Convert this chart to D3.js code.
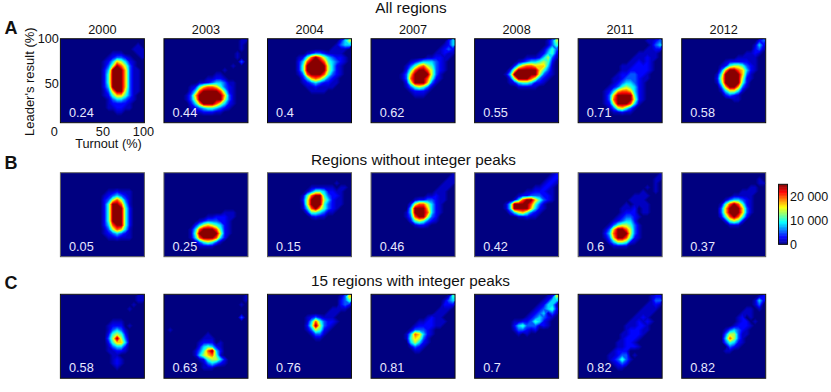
<!DOCTYPE html>
<html><head><meta charset="utf-8">
<script src="https://cdn.jsdelivr.net/npm/d3@7"></script>
<style>html,body{margin:0;padding:0;background:#fff}svg{display:block}text{font-family:"Liberation Sans",Arial,sans-serif;fill:#111}</style>
</head><body><div id="chart"></div>
<script>
const years = ["2000","2003","2004","2007","2008","2011","2012"];
const rowTitles = ["All regions","Regions without integer peaks","15 regions with integer peaks"];
const rowLetters = ["A","B","C"];
const corrAll = ["0.24","0.44","0.4","0.62","0.55","0.71","0.58"];
const corrWithout = ["0.05","0.25","0.15","0.46","0.42","0.6","0.37"];
const corrInteger = ["0.58","0.63","0.76","0.81","0.7","0.82","0.82"];
const colorbarTicks = [0,10000,20000];
// ballot-count read at each digit of the 5%-by-5% grids below
const gridLevels = [0,1800,3200,5500,8500,11000,14000,17000,20000,25000];

const allRegions = [
["","00000000000000000010","00000000000000000111","00000000000011100011","00000000000123321001","00000000001247642100","00000000001369863100","00000000002499973110","00000000002599973110","00000000002599973110","00000000002599973110","00000000002499973110","00000000001379963110","00000000001257753100","00000000000134432100","00000000000122221000","00000000000112211000","00000000000001100"],
["00000000000000000011","0000000000000000001","0000000000000000001","000000000000000001","000000000000000001","0000000000000000003","00000000000000001","000000000000001","00000000000011","000000000011221","00000000112344311","00000012578875321","00000024899998521","00000137999999731","00000136999999631","00000024799986421","0000001234554321","00000001122211"],
["00000000000000000246","00000000000000001344","0000000000000001111","000000000123321111","0000000125898643221","0000000248999854321","000000025999996421","000000025999996421","000000013899985321","00000000247875321","00000000123432211","0000000001121111","00000000001111"],
["00000000000000000024","00000000000000000124","00000000000000001232","00000000000000011211","0000000000000112211","000000000123444321","000000001357865321","000000002589986321","00000001379999631","00000001389998521","0000000026999731","000000001356531","00000000012221","0000000000111"],
["00000000000000000136","00000000000000000135","00000000000000001353","00000000000000012452","00000000000011124631","0000000000123445652","0000000002578877741","0000000026999997531","0000000149999996321","000000002699986321","00000000124554221","000000000011111"],
["00000000000000001123","00000000000000000134","00000000000000001122","0000000000000011111","0000000000000111211","000000000000112121","000000000011122221","000000000011222221","00000000012233221","00000000112333211","0000000012344321","0000000123565421","0000001247887421","0000001379999521","0000001389999621","000000126999841","00000001367531","0000000011211"],
["00000000000000000023","00000000000000000142","00000000000000000231","0000000000000001121","000000000000011111","000000000012222211","000000000125665321","000000000379987421","00000000159999731","00000000269999621","0000000015999952","0000000003799731","000000000146641","00000000002321","00000000000011"]
];
const withoutPeaks = [
["","","","","00000000000112111","00000000001234321","00000000002368631","00000000002599841","00000000002599952","00000000002599952","00000000002599952","00000000002599952","00000000002489952","00000000001368741","00000000001234321","00000000000112111"],
["","","","","","","","","","00000000000000111","00000000001122211","0000000012333221","0000000246765421","0000001489998521","0000001599999621","000000148999842","00000001356531","000000001111"],
["","","0000000000000000100","00000000001111110110","000000000135542211","000000001589953221","000000002699964211","000000001699953211","00000000148975321","0000000002554311","00000000001211"],
["00000000000000000001","00000000000000000011","00000000000000000111","0000000000000000111","000000000000000111","000000000000011211","000000000012233211","00000000026886421","00000000049997421","00000000149998421","0000000013899632","0000000002565321","00000000001221"],
["00000000000000000012","00000000000000000122","00000000000000001221","0000000000000011221","0000000000001122211","0000000000122333221","0000000001489975321","00000001499998531","00000001499997421","00000000246753210","000000000011211"],
["00000000000000000001","00000000000000000011","0000000000000000001","0000000000000000101","0000000000000001001","00000000000001111","0000000000001111","00000000000101111","00000000001112011","00000000001222011","000000000123321","000000001234420","000000013566531","000000137998631","000000248999631","000000137998521","000000024665210","000000001111"],
["","0000000000000000001","00000000000000000011","000000000000000011","000000000000001111","00000000000011111","00000000001344321","00000000015898521","00000000037999731","00000000037999731","0000000002589852","000000000025652","00000000000111"]
];
const integerPeaks = [
["00000000000000000011","00000000000000000011","000000000000000001","00000000000000001","","","000000000000111","00000000000122201","00000000000134310","00000000000256520","00000000000369630","00000000000257740","00000000000134420","00000000000112210","00000000000011","000000000000121","000000000000121","00000000000001"],
["00000000000000000001","00000000000000000001","0000000000000000001","","","0000000000000000003","","","01","00000000001","000000000111","00000000122201","000000002454210","000000013589420","00000001467851","000000001256642","000000000134321","000000000111"],
["00000000000000000137","00000000000000000235","00000000000000000232","0000000000000001111","000000000000001110","00000000012321110","00000000014853221","0000000002596321","000000000136521","00000000001331","0000000000011"],
["00000000000000000015","00000000000000000134","00000000000000000222","0000000000000000111","000000000000000111","00000000000001211","000000000001122111","00000000001222211","000000000133321","000000001487421","00000000157631","00000000046421","0000000001321","000000000011"],
["00000000000000000126","00000000000000001244","00000000000000012441","00000000000000123452","00000000000001234131","0000000000001234321","000000000112235421","000000000245333121","000000000133212","0000000000101"],
["00000000000000000122","00000000000000000133","00000000000000001121","0000000000000001111","000000000000001111","00000000000001121","000000000000112121","00000000000111221","00000000000122211","0000000000112221","000000000012221","000000000112210","000000000112221","000000001222","00000001123301","0000000123531","000000001232","00000000011"],
["00000000000000000012","00000000000000000142","0000000000000000013","0000000000000001101","00000000000000111","00000000000001201","000000000000012201","00000000000012221","00000000001343210","0000000000366311","000000000048631","000000000035421","00000000000321","000000000011"]
];
const rows = [
  {grids: allRegions, corr: corrAll, top: 38.7, border: "#0a0a0a"},
  {grids: withoutPeaks, corr: corrWithout, top: 172.7, border: "#5a5a5a"},
  {grids: integerPeaks, corr: corrInteger, top: 294.3, border: "#111"}
];

const W = 831, H = 392, size = 84, cols = 20, binWidth = 5;
const panelX = d3.scalePoint().domain(years).range([60.4, 681.7]);
const x = d3.scaleLinear().domain([0,100]).range([0,size]);
const y = d3.scaleLinear().domain([0,100]).range([size,0]);
const jet = t => {
  const c = v => Math.round(255*Math.max(0,Math.min(1,v)));
  return `rgb(${c(Math.min(4*t-1.5,-4*t+4.5))},${c(Math.min(4*t-0.5,-4*t+3.5))},${c(Math.min(4*t+0.5,-4*t+2.5))})`;
};
const color = d3.scaleSequential(jet).domain([0,25000]);
const thresholds = d3.range(400,25000,400);
const contours = d3.contours().size([cols,cols]).thresholds(thresholds);
const path = d3.geoPath(d3.geoTransform({point(px,py){ this.stream.point(x(px*binWidth), y(100-py*binWidth)); }}));

const svg = d3.select("#chart").append("svg").attr("width",W).attr("height",H);
const defs = svg.append("defs");
const f = defs.append("filter").attr("id","soft").attr("x","-10%").attr("y","-10%").attr("width","120%").attr("height","120%").attr("color-interpolation-filters","sRGB");
f.append("feGaussianBlur").attr("stdDeviation",0.6).attr("edgeMode","duplicate");
defs.append("clipPath").attr("id","panelClip").append("rect").attr("width",size).attr("height",size);

rows.forEach((row,ri)=>{
  row.grids.forEach((grid,pi)=>{
    const g = svg.append("g").attr("transform",`translate(${panelX(years[pi])},${row.top})`);
    const values = new Array(cols*cols).fill(0);
    grid.forEach((line,r)=>{ for(let c=0;c<line.length;c++){ values[c+r*cols] = gridLevels[+line[c]]; } });
    const clip = g.append("g").attr("clip-path","url(#panelClip)");
    const inner = clip.append("g").attr("filter","url(#soft)");
    inner.append("rect").attr("width",size).attr("height",size).attr("fill",color(0));
    inner.selectAll("path").data(contours(values)).join("path")
      .attr("d",path).attr("fill",d=>color(d.value));
    g.append("rect").attr("width",size).attr("height",size).attr("fill","none").attr("stroke",row.border).attr("stroke-width",1);
    g.append("text").attr("x",8.6).attr("y",78).attr("font-size",12.7).style("fill","#e8e8ff").text(row.corr[pi]);
    if(ri===0){
      g.append("text").attr("x",size/2).attr("y",-4.3).attr("text-anchor","middle").attr("font-size",12.7).text(years[pi]);
    }
    if(ri===0&&pi===0){
      const ax = g.append("g").attr("transform",`translate(0,${size})`).call(d3.axisBottom(x).tickValues([0,50,100]).tickSize(0).tickPadding(4));
      ax.select(".domain").remove();
      ax.selectAll("text").style("font-family",'"Liberation Sans",Arial,sans-serif').attr("font-size",12.7).attr("dx",d=>d===0?-6.5:d===100?-1.5:0).style("fill","#111");
      const ay = g.append("g").call(d3.axisLeft(y).tickValues([50,100]).tickSize(0).tickPadding(1.5));
      ay.select(".domain").remove();
      ay.selectAll("text").style("font-family",'"Liberation Sans",Arial,sans-serif').attr("font-size",12.7).style("fill","#111").attr("dy",d=>d===50?"0.5em":"0.32em");
      g.append("text").attr("x",48).attr("y",109.5).attr("text-anchor","middle").attr("font-size",12.7).text("Turnout (%)");
      g.append("text").attr("transform","translate(-26.5,43) rotate(-90)").attr("text-anchor","middle").attr("font-size",13).text("Leader's result (%)");
    }
  });
});

const titleBase = [13,165,286], titleX = [411,413.5,410.5], letterBase = [33.5,168.5,288.5];
rowTitles.forEach((t,i)=>{
  svg.append("text").attr("x",titleX[i]).attr("y",titleBase[i]).attr("text-anchor","middle").attr("font-size",15.3).text(t);
  svg.append("text").attr("x",4.5).attr("y",letterBase[i]).attr("font-size",18).attr("font-weight","bold").text(rowLetters[i]);
});

// colorbar
const barY = d3.scaleLinear().domain([0,25000]).range([244.3,184.3]);
const barG = svg.append("g");
barG.selectAll("rect").data(d3.range(0,25000,250)).join("rect")
  .attr("x",778.5).attr("width",9).attr("y",d=>barY(d+250)).attr("height",barY(0)-barY(250)+0.4).attr("fill",d=>color(d+125));
barG.append("rect").attr("x",778.5).attr("y",184.3).attr("width",9).attr("height",60).attr("fill","none").attr("stroke","#111").attr("stroke-width",1);
const fmt = d => d3.format(",")(d).replace(",", " ");
const barAxis = svg.append("g").attr("transform","translate(787.5,0)").call(d3.axisRight(barY).tickValues(colorbarTicks).tickSize(0).tickPadding(2.5).tickFormat(fmt));
barAxis.select(".domain").remove();
barAxis.selectAll("text").style("font-family",'"Liberation Sans",Arial,sans-serif').attr("font-size",12.5).style("fill","#111");
</script></body></html>
